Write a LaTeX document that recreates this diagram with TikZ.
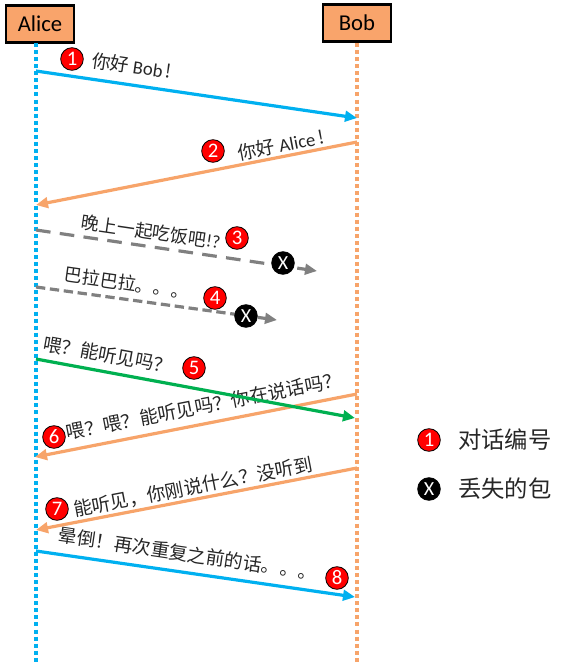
\documentclass[tikz,border=0pt]{standalone}
\usepackage{fontspec}
\setmainfont{Carlito}
\newfontfamily\cjk{Noto Sans CJK SC}
\usetikzlibrary{arrows.meta}
\definecolor{ablue}{HTML}{00B0F0}
\definecolor{aorange}{HTML}{F7A46A}
\definecolor{boxfill}{HTML}{F9A46B}
\definecolor{agreen}{HTML}{00B050}
\definecolor{agray}{HTML}{808080}
\begin{document}
\begin{tikzpicture}[x=0.75pt,y=-0.75pt,
  actor/.style={draw=black,line width=2pt,fill=boxfill,minimum width=51pt,minimum height=28pt,inner sep=0pt,font=\fontsize{17}{20}\selectfont},
  life/.style={line width=2.4pt,dash pattern=on 3pt off 2.3pt},
  msg/.style={line width=2.4pt,-{Triangle[length=9pt,width=8pt]}},
  lbl/.style={font=\cjk\fontsize{14}{16}\selectfont,inner sep=0pt,text=black!85},
  num/.style={circle,draw=black,line width=0.6pt,fill=red,text=white,minimum size=17pt,inner sep=0pt,font=\fontsize{15.5}{15}\selectfont},
  lost/.style={circle,draw=black,line width=0.6pt,fill=black,text=white,minimum size=17pt,inner sep=0pt,font=\fontsize{15}{15}\selectfont},
  leg/.style={font=\cjk\fontsize{17.5}{20}\selectfont,inner sep=0pt,anchor=west,text=black!85}]
\useasboundingbox (0,0) rectangle (568,662);
% actors
\node[actor] (alice) at (40,24) {Alice};
\node[actor] (bob) at (357,23) {Bob};
\coordinate (atop) at (36,43);
\coordinate (abot) at (36,662);
\coordinate (btop) at (357,43);
\coordinate (bbot) at (357,662);
\draw[life,ablue] (atop) -- (abot);
\draw[life,aorange] (btop) -- (bbot);
% labels
\node[lbl,rotate=-8.3] (t1) at (132,66) {你好 {\normalfont Bob}\,!};
\node[lbl,rotate=11] (t2) at (281,145) {你好 {\normalfont Alice}\,!};
\node[lbl,rotate=-8.3,font=\cjk\fontsize{13.5}{16}\selectfont] (t3) at (151,232) {晚上一起吃饭吧{\normalfont !?}};
\node[lbl,rotate=-8.1,font=\cjk\fontsize{13.5}{16}\selectfont] (t4) at (127,283) {巴拉巴拉。。。};
\node[lbl,rotate=-10.3] (t5) at (108,355) {喂？能听见吗？};
\node[lbl,rotate=11.1] (t6) at (204,406) {喂？喂？能听见吗？你在说话吗？};
\node[lbl,rotate=10.9] (t7) at (193,487) {能听见，你刚说什么？没听到};
\node[lbl,rotate=-8.4] (t8) at (188,554) {晕倒！再次重复之前的话。。。};
% message endpoints
\coordinate (m1s) at (36,71);  \coordinate (m1e) at (357,118);
\coordinate (m2s) at (357,142); \coordinate (m2e) at (36,205);
\coordinate (m3s) at (36,230);  \coordinate (m3e) at (317,271);
\coordinate (m4s) at (36,287);  \coordinate (m4e) at (277,320);
\coordinate (m5s) at (36,359);  \coordinate (m5e) at (355,418);
\coordinate (m6s) at (357,394); \coordinate (m6e) at (35,457);
\coordinate (m7s) at (357,468); \coordinate (m7e) at (36,530);
\coordinate (m8s) at (36,551);  \coordinate (m8e) at (355,597);
\draw[msg,ablue] (m1s) -- (m1e);
\draw[msg,aorange] (m2s) -- (m2e);
\draw[msg,agray,dash pattern=on 11pt off 7pt] (m3s) -- (m3e);
\draw[msg,agray,dash pattern=on 7pt off 3.5pt] (m4s) -- (m4e);
\draw[msg,aorange] (m6s) -- (m6e);
\draw[msg,agreen] (m5s) -- (m5e);
\draw[msg,aorange] (m7s) -- (m7e);
\draw[msg,ablue] (m8s) -- (m8e);
% numbers
\node[num] (n1) at (72,59) {1};
\node[num] (n2) at (213,151) {2};
\node[num] (n3) at (237,238) {3};
\node[num] (n4) at (215,298) {4};
\node[num] (n5) at (194,368) {5};
\node[num] (n6) at (54,437) {6};
\node[num] (n7) at (57,509) {7};
\node[num] (n8) at (337,578) {8};
% lost packets
\node[lost] (x3) at (283,263) {X};
\node[lost] (x4) at (246,316) {X};
% legend
\node[num] (l1) at (429,440) {1};
\node[leg] (lt1) at (458,440) {对话编号};
\node[lost] (l2) at (429,489) {X};
\node[leg] (lt2) at (458,489) {丢失的包};
\end{tikzpicture}
\end{document}
